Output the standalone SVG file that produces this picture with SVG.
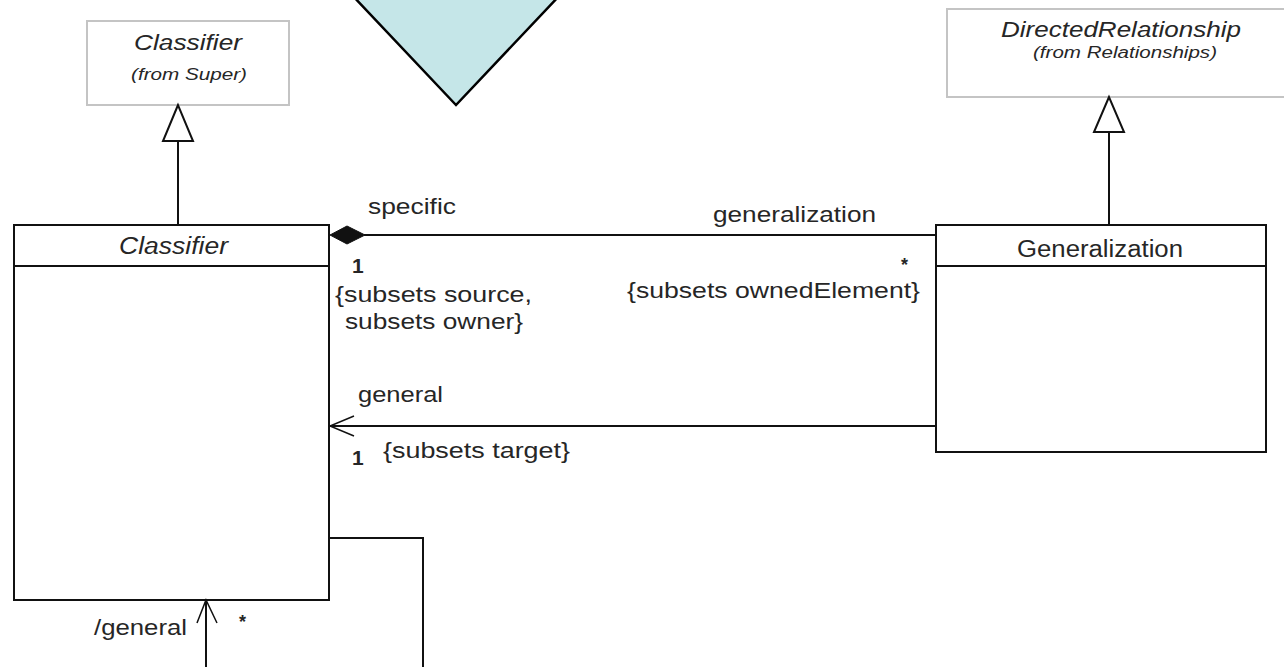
<svg xmlns="http://www.w3.org/2000/svg" width="1284" height="667" viewBox="0 0 1284 667">
<style>
.t{font-family:"Liberation Sans",Arial,sans-serif;fill:#262626;}
.i{font-style:italic;}
.b{font-weight:bold;}
.box{fill:#fff;stroke:#111;stroke-width:2;}
.ext{fill:#fff;stroke:#c4c4c4;stroke-width:2;}
.ln{fill:none;stroke:#111;stroke-width:2;}
.ah{fill:none;stroke:#111;stroke-width:1.5;}
</style>
<rect width="1284" height="667" fill="#fff"/>
<g id="decor-triangle">
<polygon points="352,-5 456,105 560,-5" fill="#c5e6e8" stroke="#000" stroke-width="2.5"/>
</g>
<g id="node-classifier-super">
<rect class="ext" x="87" y="21" width="202" height="84"/>
<text class="t i" x="134" y="50" font-size="22" textLength="108" lengthAdjust="spacingAndGlyphs">Classifier</text>
<text class="t i" x="131" y="80" font-size="16" textLength="116" lengthAdjust="spacingAndGlyphs">(from Super)</text>
</g>
<g id="node-directedrelationship">
<rect class="ext" x="947" y="9" width="345" height="88"/>
<text class="t i" x="1001" y="37" font-size="22" textLength="240" lengthAdjust="spacingAndGlyphs">DirectedRelationship</text>
<text class="t i" x="1033" y="58" font-size="16" textLength="184" lengthAdjust="spacingAndGlyphs">(from Relationships)</text>
</g>
<g id="node-classifier">
<rect class="box" x="14" y="225" width="315" height="375"/>
<line class="ln" x1="14" y1="266" x2="329" y2="266"/>
<text class="t i" x="119" y="254" font-size="23" textLength="109" lengthAdjust="spacingAndGlyphs">Classifier</text>
</g>
<g id="node-generalization">
<rect class="box" x="936" y="225" width="330" height="227"/>
<line class="ln" x1="936" y1="266" x2="1266" y2="266"/>
<text class="t" x="1017" y="257" font-size="23" textLength="166" lengthAdjust="spacingAndGlyphs">Generalization</text>
</g>
<g id="connectors">
<line class="ln" x1="178" y1="141" x2="178" y2="225"/>
<polygon points="178,105 163,141 193,141" fill="#fff" stroke="#111" stroke-width="2"/>
<line class="ln" x1="1109" y1="132" x2="1109" y2="225"/>
<polygon points="1109,97 1094,132 1124,132" fill="#fff" stroke="#111" stroke-width="2"/>
<line class="ln" x1="364" y1="235" x2="936" y2="235"/>
<polygon points="330,235 347,226 365,235 347,244" fill="#111" stroke="#111" stroke-width="1"/>
<line class="ln" x1="330" y1="426" x2="936" y2="426"/>
<polyline class="ah" points="354,416 330,426 354,436"/>
<polyline class="ln" points="329,538 423,538 423,670"/>
<line class="ln" x1="206" y1="600" x2="206" y2="670"/>
<polyline class="ah" points="197,623 206,600 217,623"/>
</g>
<g id="labels">
<text class="t" x="368" y="214" font-size="22" textLength="88" lengthAdjust="spacingAndGlyphs">specific</text>
<text class="t" x="713" y="222" font-size="22" textLength="163" lengthAdjust="spacingAndGlyphs">generalization</text>
<text class="t b" x="352" y="273" font-size="21">1</text>
<text class="t" x="335" y="302" font-size="22" textLength="197" lengthAdjust="spacingAndGlyphs">{subsets source,</text>
<text class="t" x="345" y="329" font-size="22" textLength="178" lengthAdjust="spacingAndGlyphs">subsets owner}</text>
<text class="t b" x="901" y="271" font-size="18">*</text>
<text class="t" x="627" y="298" font-size="22" textLength="293" lengthAdjust="spacingAndGlyphs">{subsets ownedElement}</text>
<text class="t" x="358" y="402" font-size="22" textLength="85" lengthAdjust="spacingAndGlyphs">general</text>
<text class="t b" x="352" y="465" font-size="21">1</text>
<text class="t" x="383" y="458" font-size="22" textLength="187" lengthAdjust="spacingAndGlyphs">{subsets target}</text>
<text class="t" x="94" y="635" font-size="22" textLength="93" lengthAdjust="spacingAndGlyphs">/general</text>
<text class="t b" x="239" y="628" font-size="18">*</text>
</g>
</svg>
